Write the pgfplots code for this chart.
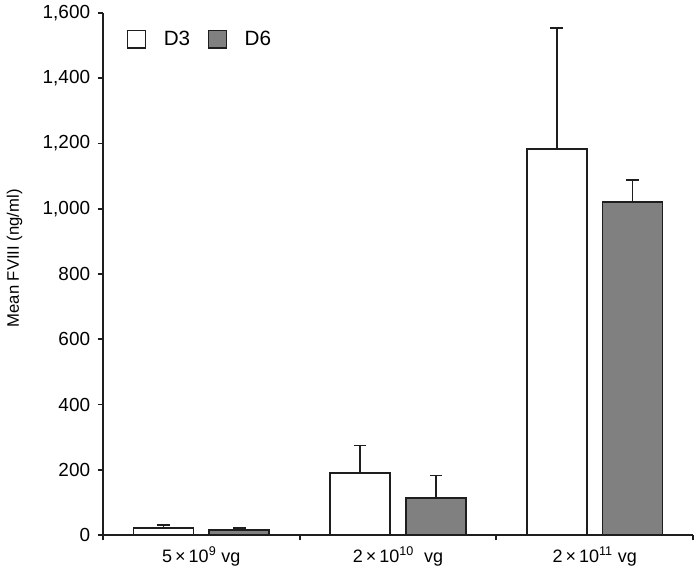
\documentclass[border=0pt]{standalone}
\usepackage{pgfplots}
\pgfplotsset{compat=1.18}
\usepackage{fontspec}
\setmainfont{Liberation Sans}
\definecolor{dgray}{RGB}{128,128,128}
\definecolor{lc}{RGB}{30,30,30}
\pgfplotsset{sqlegend/.style={legend image code/.code={\draw[##1, line width=1.3pt] (0pt,-6.5pt) rectangle (13.5pt,6.5pt);}}}
\begin{document}
\fontsize{13.5}{16}\selectfont
\begin{tikzpicture}
\begin{axis}[
  name=ax,
  scale only axis, width=442.5pt, height=391.5pt,
  xmin=0, xmax=3, ymin=0, ymax=1600,
  axis x line*=bottom, axis y line*=left,
  axis line style={line width=1.3pt, lc},
  every outer x axis line/.append style={-}, every outer y axis line/.append style={-},
  tick align=outside,
  major tick length=4pt,
  tick style={line width=1.3pt, lc},
  ytick={0,200,...,1600},
  /pgf/number format/1000 sep={,},
  /pgf/number format/assume math mode=true,
  xticklabel style={font=\fontsize{13.5}{16}\selectfont, yshift=-4pt},
  yticklabel style={font=\fontsize{14.2}{17}\selectfont, xshift=-1pt},
  xtick={0,1,2,3}, xticklabels={},
  extra x ticks={0.5,1.5,2.5},
  extra x tick labels={5\,×\,10\textsuperscript{9} vg, 2\,×\,10\textsuperscript{10}\ \ vg, 2\,×\,10\textsuperscript{11} vg},
  extra x tick style={major tick length=0pt, tick style={draw=none}},
  ylabel={Mean FVIII (ng/ml)},
  ylabel style={font=\fontsize{12.5}{15}\selectfont, at={(ticklabel cs:0.53)}, yshift=6pt},
  ybar, bar width=0.305,
  legend style={draw=none, fill=none, at={(0.033,0.977)}, anchor=north west, legend columns=2, column sep=11pt, font=\fontsize{15.5}{18}\selectfont},
  legend cell align=left,
]
\addplot[draw=lc, fill=white, line width=1.3pt, bar shift=-0.193, sqlegend,
  error bars/.cd, y dir=plus, y explicit,
  error bar style={line width=1.3pt, lc},
  error mark options={rotate=90, mark size=4.8pt, line width=1.3pt, lc}]
coordinates {(0.5,22) +- (0,8) (1.5,190) +- (0,84) (2.5,1184) +- (0,371)};
\addlegendentry{D3}
\addplot[draw=lc, fill=dgray, line width=1.3pt, bar shift=0.193, sqlegend,
  error bars/.cd, y dir=plus, y explicit,
  error bar style={line width=1.3pt, lc},
  error mark options={rotate=90, mark size=4.8pt, line width=1.3pt, lc}]
coordinates {(0.5,15) +- (0,7) (1.5,114) +- (0,68) (2.5,1021) +- (0,68)};
\addlegendentry{D6}
\end{axis}
\pgfresetboundingbox
\path ([shift={(-77.25pt,-34.5pt)}]ax.south west) rectangle ([shift={(5.25pt,9.75pt)}]ax.north east);
\end{tikzpicture}
\end{document}
